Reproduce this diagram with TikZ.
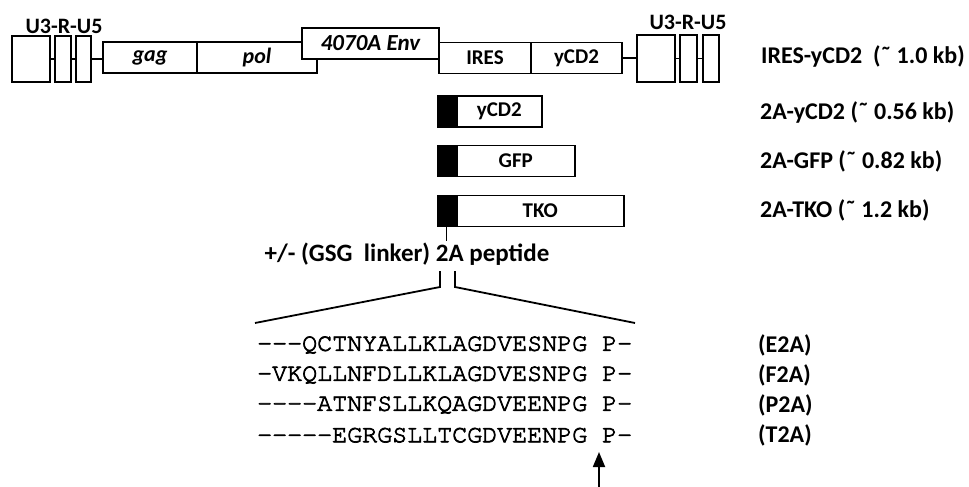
\documentclass[tikz,border=0pt]{standalone}
\usepackage[T1,TU]{fontenc}
\usepackage{fontspec}
\setmainfont{Carlito}
\usetikzlibrary{arrows.meta}
\newcommand{\seqface}{\fontencoding{T1}\fontfamily{pcr}\fontseries{m}\fontshape{n}\fontsize{25}{28}\selectfont}
\newcommand{\heavy}[1]{\special{pdf:literal 2 Tr 0.7 w}#1\special{pdf:literal 0 Tr}}

\begin{document}
\begin{tikzpicture}[
  x=1pt, y=-1pt,
  font=\bfseries\fontsize{24}{28}\selectfont,
  seg/.style={draw, line width=1.8pt, fill=white, inner sep=0pt, minimum height=31pt, font=\bfseries\fontsize{21}{24}\selectfont},
  ltr/.style={draw, line width=1.8pt, fill=white, inner sep=0pt, minimum height=46pt},
  tag/.style={draw, line width=1.8pt, fill=black, inner sep=0pt, minimum width=17pt, minimum height=31pt},
  orf/.style={seg, anchor=west},
  link/.style={line width=1.8pt},
  seq/.style={anchor=west, inner sep=0pt, font=\seqface},
  side/.style={anchor=west, inner sep=0pt}
]
\useasboundingbox (0,0) rectangle (969,487);
\node[ltr, minimum width=38pt] (lu3) at (31,59) {};
\node[ltr, minimum width=16pt] (lr) at (63,59) {};
\node[ltr, minimum width=15pt] (lu5) at (83.5,59) {};
\node[font=\bfseries\fontsize{22}{24}\selectfont] (lltr) at (64,26) {U3-R-U5};
\node[seg, minimum width=94pt, font=\bfseries\itshape\fontsize{22}{24}\selectfont] (gag) at (150,57.5) {gag};
\node[seg, minimum width=120pt, font=\bfseries\itshape\fontsize{22}{24}\selectfont] (pol) at (257,57.5) {pol};
\node[seg, minimum width=92pt] (ires) at (485,58) {IRES};
\node[seg, minimum width=91pt] (ycd) at (576.5,58) {yCD2};
\node[seg, minimum width=137pt, font=\bfseries\itshape\fontsize{23}{24}\selectfont] (env) at (370.5,43.5) {4070A Env};
\node[ltr, minimum width=38pt, minimum height=47pt] (ru3) at (656,58.5) {};
\node[ltr, minimum width=17pt, minimum height=47pt] (rr) at (688.5,58.5) {};
\node[ltr, minimum width=16pt, minimum height=47pt] (ru5) at (711,58.5) {};
\node[font=\bfseries\fontsize{22}{24}\selectfont] (rltr) at (688,22) {U3-R-U5};
\draw[link] (lu3) -- (lr);
\draw[link] (lr) -- (lu5);
\draw[link] (lu5.east) -- (lu5.east -| gag.west);
\draw[link] (ycd.east) -- (ycd.east -| ru3.west);
\draw[link] (ru3) -- (rr);
\draw[link] (rr) -- (ru5);
\node[side] (ireslab) at (761,56) {IRES-yCD2~~(˜ 1.0 kb)};

\node[tag] (ycdtag) at (446.5,111.5) {};
\node[orf, minimum width=85pt] (ycdorf) at (ycdtag.east) {yCD2};
\node[tag] (gfptag) at (446.5,161) {};
\node[orf, minimum width=118pt] (gfporf) at (gfptag.east) {GFP};
\node[tag] (tkotag) at (446.5,211) {};
\node[orf, minimum width=167pt] (tkoorf) at (tkotag.east) {TKO};
\node[side] (ycdlab) at (760,112) {2A-yCD2 (˜ 0.56 kb)};
\node[side] (gfplab) at (760,161) {2A-GFP (˜ 0.82 kb)};
\node[side] (tkolab) at (760,210) {2A-TKO (˜ 1.2 kb)};

\coordinate (tick) at (446.5,241);
\draw[link] (tkotag.south) -- (tick);
\node[font=\bfseries\fontsize{25}{28}\selectfont] (pep) at (407,254) {+/- (GSG~ linker) 2A peptide};
\coordinate (bl) at (440,271);
\coordinate (br) at (455,271);
\coordinate (fl) at (255,323);
\coordinate (fr) at (635,323);
\draw[link] (bl) -- ++(0,16) -- (fl);
\draw[link] (br) -- ++(0,16) -- (fr);

\node[seq] (e2a) at (257,345) {\heavy{{-}{-}{-}QCTNYALLKLAGDVESNPG P{-}}};
\node[seq] (f2a) at (257,375) {\heavy{{-}VKQLLNFDLLKLAGDVESNPG P{-}}};
\node[seq] (p2a) at (257,405) {\heavy{{-}{-}{-}{-}ATNFSLLKQAGDVEENPG P{-}}};
\node[seq] (t2a) at (257,435) {\heavy{{-}{-}{-}{-}{-}EGRGSLLTCGDVEENPG P{-}}};
\node[side] (e2alab) at (758,345) {(E2A)};
\node[side] (f2alab) at (758,375) {(F2A)};
\node[side] (p2alab) at (758,405) {(P2A)};
\node[side] (t2alab) at (758,435) {(T2A)};

\coordinate (cut) at (599,487);
\coordinate (cuttip) at (599,452);
\draw[link, -{Triangle[length=15pt,width=12pt]}] (cut) -- (cuttip);
\end{tikzpicture}
\end{document}
